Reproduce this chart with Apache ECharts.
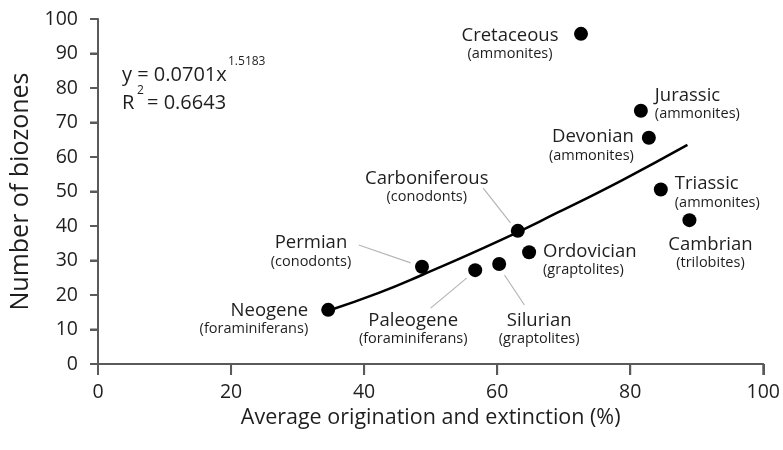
<!DOCTYPE html>
<html>
<head>
<meta charset="utf-8">
<script src="https://cdn.jsdelivr.net/npm/echarts@6/dist/echarts.min.js"></script>
<style>
  html, body { margin: 0; padding: 0; background: #fff; }
  #chart { width: 783px; height: 450px; }
</style>
</head>
<body>
<div id="chart"></div>
<script>
// periods and the fossil group used for each
const periods = ['Cretaceous', 'Jurassic', 'Devonian', 'Triassic', 'Cambrian', 'Carboniferous', 'Ordovician', 'Permian', 'Paleogene', 'Silurian', 'Neogene']
const groups = ['ammonites', 'ammonites', 'ammonites', 'ammonites', 'trilobites', 'conodonts', 'graptolites', 'conodonts', 'foraminiferans', 'graptolites', 'foraminiferans']
// average origination and extinction (%)
const turnover = [72.6, 81.6, 82.8, 84.6, 88.9, 63.1, 64.8, 48.7, 56.7, 60.3, 34.6]
// number of biozones
const biozones = [95.7, 73.4, 65.6, 50.6, 41.7, 38.6, 32.4, 28.2, 27.2, 29.0, 15.7]

// power trend line
const trendX = [34.7, 42.2, 48.7, 60.2, 69.2, 78.9, 88.6]
const trendY = [15.5, 20.6, 25.8, 35.6, 44.0, 53.4, 63.5]

const xTicks = [0, 20, 40, 60, 80, 100]
const yTicks = [0, 10, 20, 30, 40, 50, 60, 70, 80, 90, 100]

// label placement (offset from dot, alignment)
const labelPlace = {
  Cretaceous:    { align: 'center', offset: [-71, 10] },
  Jurassic:      { align: 'left',   offset: [14, -7] },
  Devonian:      { align: 'right',  offset: [-15, 8] },
  Triassic:      { align: 'left',   offset: [14, 3] },
  Cambrian:      { align: 'center', offset: [21, 33] },
  Carboniferous: { align: 'center', offset: [-91, -44] },
  Ordovician:    { align: 'left',   offset: [14, 8] },
  Permian:       { align: 'center', offset: [-111, -15] },
  Paleogene:     { align: 'center', offset: [-62, 59] },
  Silurian:      { align: 'center', offset: [40, 65] },
  Neogene:       { align: 'right',  offset: [-20, 9] }
}

// grey leader lines, in data units
const leaders = [
  [[57.9, 51.0], [62.0, 40.9]],
  [[39.2, 34.5], [47.0, 29.3]],
  [[50.0, 16.2], [55.4, 24.9]],
  [[61.1, 25.8], [64.1, 17.1]]
]

const font = 'Open Sans'
const textColor = '#1e1e1e'
const axisColor = '#5a5a5a'

let points = []
for (let i = 0; i < periods.length; i++) {
  let p = labelPlace[periods[i]]
  points.push({
    value: [turnover[i], biozones[i]],
    name: periods[i],
    group: groups[i],
    label: {
      show: true,
      position: 'inside',
      align: p.align,
      verticalAlign: 'middle',
      offset: p.offset
    }
  })
}

let trend = []
for (let i = 0; i < trendX.length; i++) {
  trend.push([trendX[i], trendY[i]])
}

let series = []
leaders.forEach(function (seg) {
  series.push({
    type: 'line',
    data: seg,
    showSymbol: false,
    lineStyle: { color: '#b5b5b5', width: 1.2 }
  })
})
series.push({
  type: 'line',
  data: trend,
  smooth: 0.5,
  showSymbol: false,
  lineStyle: { color: '#000', width: 2.5 }
})
series.push({
  type: 'scatter',
  data: points,
  symbolSize: 14,
  itemStyle: { color: '#000', opacity: 1 },
  label: {
    color: textColor,
    formatter: function (d) {
      return '{a|' + d.name + '}\n{b|(' + d.data.group + ')}'
    },
    rich: {
      a: { fontFamily: font, fontSize: 18.5, lineHeight: 20, color: textColor },
      b: { fontFamily: font, fontSize: 14.5, lineHeight: 17, color: textColor }
    }
  }
})

let equation = [
  { type: 'text', left: 122, top: 65, style: { text: 'y = 0.0701x', fontFamily: font, fontSize: 20, fill: textColor } },
  { type: 'text', left: 228, top: 56, style: { text: '1.5183', fontFamily: font, fontSize: 12, fill: textColor } },
  { type: 'text', left: 122, top: 93, style: { text: 'R', fontFamily: font, fontSize: 20, fill: textColor } },
  { type: 'text', left: 137, top: 85, style: { text: '2', fontFamily: font, fontSize: 12, fill: textColor } },
  { type: 'text', left: 147, top: 93, style: { text: '= 0.6643', fontFamily: font, fontSize: 20, fill: textColor } }
]

let options = {
  animation: false,
  grid: { left: 98, right: 17, top: 19, bottom: 86 },
  xAxis: {
    type: 'value',
    min: 0,
    max: 100,
    interval: 20,
    name: 'Average origination and extinction (%)',
    nameLocation: 'middle',
    nameGap: 33,
    nameTextStyle: { fontFamily: font, color: textColor, fontSize: 21.5 },
    axisLine: { show: true, lineStyle: { color: axisColor, width: 2 } },
    axisTick: { show: true, length: 11, lineStyle: { color: axisColor, width: 2 } },
    splitLine: { show: false },
    axisLabel: { margin: 18, fontFamily: font, fontSize: 19.5, color: textColor }
  },
  yAxis: {
    type: 'value',
    min: 0,
    max: 100,
    interval: 10,
    name: 'Number of biozones',
    nameLocation: 'middle',
    nameGap: 60,
    nameTextStyle: { fontFamily: font, color: textColor, fontSize: 25 },
    axisLine: { show: true, lineStyle: { color: axisColor, width: 2 } },
    axisTick: { show: true, length: 8, lineStyle: { color: axisColor, width: 2 } },
    splitLine: { show: false },
    axisLabel: { margin: 20, fontFamily: font, fontSize: 19.5, color: textColor }
  },
  graphic: equation,
  series: series
}

let instance = echarts.init(document.getElementById('chart'))
instance.setOption(options)

// tick marks: positions come from the chart's own scales
let tickMarks = []
xTicks.forEach(function (v) {
  let p = instance.convertToPixel({ gridIndex: 0 }, [v, 0])
  tickMarks.push({
    type: 'line', z: 100,
    shape: { x1: p[0], y1: p[1], x2: p[0], y2: p[1] + 11 },
    style: { stroke: axisColor, lineWidth: 2 }
  })
})
yTicks.forEach(function (v) {
  let p = instance.convertToPixel({ gridIndex: 0 }, [0, v])
  tickMarks.push({
    type: 'line', z: 100,
    shape: { x1: p[0] - 8, y1: p[1], x2: p[0], y2: p[1] },
    style: { stroke: axisColor, lineWidth: 2 }
  })
})
instance.setOption({ graphic: equation.concat(tickMarks) })
</script>
</body>
</html>
